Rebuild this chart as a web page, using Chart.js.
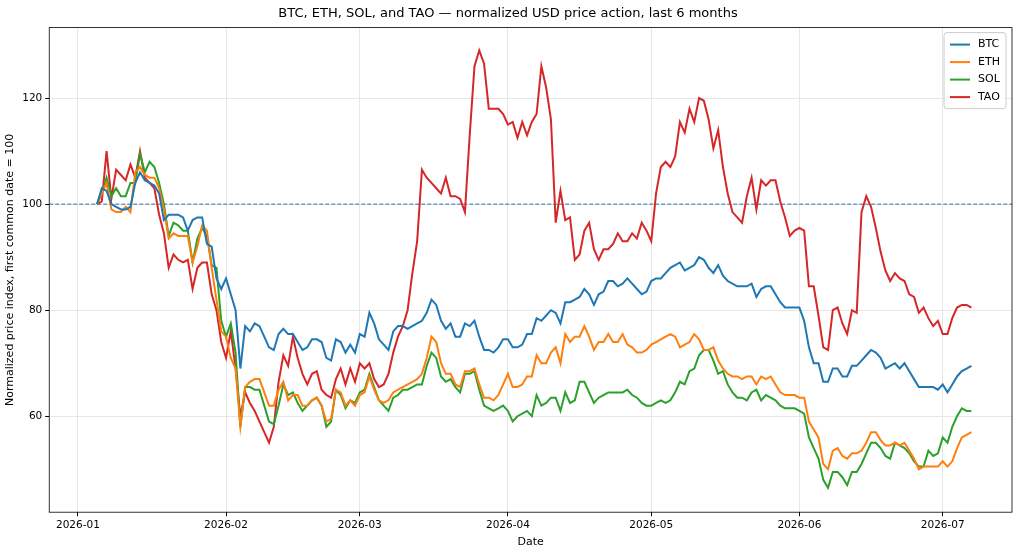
<!DOCTYPE html>
<html><head><meta charset="utf-8">
<script src="https://cdn.jsdelivr.net/npm/chart.js@4"></script>
<style>html,body{margin:0;padding:0;background:#fff}#w{width:1024px;height:551px}</style>
</head><body><div id="w"><canvas id="c"></canvas></div>
<script>
const startDay = 4; // 2026-01-05, days after 2026-01-01
const monthTicks = [0,31,59,90,120,151,181];
const monthLabels = ["2026-01","2026-02","2026-03","2026-04","2026-05","2026-06","2026-07"];
const seriesNames = ["BTC","ETH","SOL","TAO"];
const btc = [100,103,102.5,100,99.5,99,99,99.5,104,106,
104.5,104,103.5,102,97, 98,98,98,97.5,95, 97,97.5,97.5,92.5,92, 86,84,86,83,80,
69,77,76,77.5,77, 75,73,72.5,75.5,76.5, 75.5,75.5,74,72.5,73, 74.5,74.5,74,71,70.5, 74.5,74,72,73.5,72,
75.5,75,79.5,77.5,74.5, 73.5,72.5,76,77,77, 76.5,77,77.5,78,79.5, 82,81,78,76.5,77.5, 75,75,77.5,77,78, 75,72.5,72.5,72,73,
74.5,74.5,73,73,73.5, 75.5,75.5,78.5,78,79, 80,79.5,77.5,81.5,81.5, 82,82.5,84,83,81, 83,83.5,85.5,85.5,84.5, 85,86,85,84,83,
83.5,85.5,86,86,87, 88,88.5,89,87.5,88, 88.5,90,89.5,88,87, 88.5,86.5,85.5,85,84.5, 84.5,84.5,85,82.5,84, 84.5,84.5,83,81.5,80.5,
80.5,80.5,80.5,78,73, 70,70,66.5,66.5,69, 69,67.5,67.5,69.5,69.5, 70.5,71.5,72.5,72,71, 69,69.5,70,69,70, 68.5,67,65.5,65.5,65.5,
65.5,65,66,64.5,66, 67.5,68.5,69,69.5];
const eth = [100,102,104,99,98.5,98.5,99.5,98.5,106,107,
105.5,105,105,103,99, 93.5,94.5,94,94,94, 89,92,96,95,88, 82,76,75,71,69,
58,65.5,66.5,67,67, 64.5,62,62,65,66.5, 63,64,64,62,62, 63,63.5,62,59,59.5, 65,64.5,62,63,62,
64,64.5,67.5,65,63, 62.5,63,64.5,65,65.5, 66,66.5,67,68,71, 75,74,70,68,68, 66,65.5,68.5,68.5,69, 66,63.5,63.5,63,64,
66,68,65.5,65.5,66, 67.5,67.5,71.5,70,70, 72,73,70,75.5,74, 75,75,77,75,72.5, 74,74,75.5,74,74, 75.5,73.5,73,72,72,
72.5,73.5,74,74.5,75, 75.5,75,73,73.5,74, 75.5,74.5,72.5,72.5,73, 70.5,69,68,67.5,67.5, 67,67.5,67.5,66,67.5, 67,67.5,66,64.5,64,
64,64,63.5,63.5,59, 57.5,56,51,50,53.5, 54,52.5,52,53,53, 53.5,55,57,57,55.5, 54.5,54.5,55,54.5,55, 53.5,52,50,50.5,50.5,
50.5,50.5,51.5,50.5,51.5, 54,56,56.5,57];
const sol = [100,102,105,101.5,103,101.5,101.5,104,104,109.5,
106,108,107,104,100, 94,96.5,96,95,95, 89,93.5,95.5,94,88.5, 88,78,75,77.5,72,
58,65.5,65.5,65,65, 62,59,58.5,62,66, 64,64.5,62.5,61,62, 63,63.5,62,58,59, 65,64,61.5,63,62.5,
64.5,65,68,65.5,63, 62,61,63.5,64,65, 65,65.5,66,66,69.5, 72,71,67.5,66.5,67, 65.5,64.5,68,68,68.5, 65,62,61.5,61,61.5,
62,61,59,60,60.5, 61,60,64,62,62.5, 63.5,63.5,61,64.5,62.5, 63,66.5,66.5,64.5,62.5, 63.5,64,64.5,64.5,64.5, 64.5,65,64,63.5,62.5,
62,62,62.5,63,62.5, 63,64.5,66.5,66,68.5, 69,71.5,72.5,72.5,70.5, 68,68.5,66,64.5,63.5, 63.5,63,64.5,65,63, 64,63.5,63,62,61.5,
61.5,61.5,61,60.5,56, 54,52,48,46.5,49.5, 49.5,48.5,47,49.5,49.5, 51,53,55,55,54, 52.5,52,55,54.5,54, 53,51.5,50.5,50.5,53.5,
52.5,53,56,55,58, 60,61.5,61,61];
const tao = [100,100.5,110,101,106.5,105.5,104.5,107.5,105,110,
105,104,103,98,94.5, 88,90.5,89.5,89,89.5, 84,88,89,89,83, 80,74,71,76,69,
60,64.5,62.5,61,59, 57,55,58,66.5,71.5, 69.5,75,71,68,66, 68,68.5,65,64,63.5, 67,69,66,69,66.5,
70,69,70,67,65.5, 66,68,72,75,77, 80,87,93,106.5,105, 104,103,102,105,101.5, 101.5,101,98.5,113,126, 129,126.5,118,118,118,
117,115,115.5,112.5,115.5, 113,115.5,117,126,122, 116,96.5,102.5,97,97.5, 89.5,90.5,95,96.5,91.5, 89.5,91.5,91.5,92.5,94.5, 93,93,94.5,93.5,96.5,
95,93,102,107,108, 107,109,115.5,113.5,118, 115.5,120,119.5,116,110.5, 114,107,102,98.5,97.5, 96.5,101.5,105,99,104.5, 103.5,104.5,104.5,100.5,97.5,
94,95,95.5,95,84.5, 84.5,79,73,72.5,80, 80.5,77.5,75.5,80,79.5, 98.5,101.5,99.5,95.5,91, 87.5,85.5,87,86,85.5, 83,82.5,79.5,80.5,78.5,
77,78,75.5,75.5,78.5, 80.5,81,81,80.5];
const baseline = 100;
const colors = ["#1f77b4","#ff7f0e","#2ca02c","#d62728"];
const all = [btc,eth,sol,tao];
const F = "'DejaVu Sans', sans-serif";

const extras = {
  id:'extras',
  beforeDatasetsDraw(ch){
    const {ctx, chartArea:a, scales:{y}} = ch;
    const py = y.getPixelForValue(baseline);
    ctx.save(); ctx.strokeStyle="#1f77b4"; ctx.lineWidth=1; ctx.setLineDash([4,2]);
    ctx.beginPath(); ctx.moveTo(a.left,py); ctx.lineTo(a.right,py); ctx.stroke(); ctx.restore();
  },
  afterDraw(ch){
    const {ctx, chartArea:a} = ch;
    ctx.save();
    ctx.strokeStyle="#000"; ctx.lineWidth=0.8; ctx.strokeRect(a.left,a.top,a.right-a.left,a.bottom-a.top);
    const bx=a.right-68, by=a.top+5, bw=62, bh=76;
    ctx.fillStyle="rgba(255,255,255,0.8)"; ctx.strokeStyle="#ccc"; ctx.lineWidth=1;
    ctx.beginPath(); ctx.roundRect(bx,by,bw,bh,3); ctx.fill(); ctx.stroke();
    ctx.font="11px "+F; ctx.textBaseline="middle"; ctx.fillStyle="#000";
    seriesNames.forEach((n,i)=>{
      const yy=by+12+i*17.5;
      ctx.strokeStyle=colors[i]; ctx.lineWidth=2; ctx.setLineDash([]);
      ctx.beginPath(); ctx.moveTo(bx+6,yy); ctx.lineTo(bx+26,yy); ctx.stroke();
      ctx.fillText(n,bx+34,yy);
    });
    ctx.restore();
  }
};

new Chart(document.getElementById('c'),{
  type:'line',
  data:{datasets: all.map((arr,i)=>({label:seriesNames[i], data:arr.map((v,j)=>({x:startDay+j,y:v})),
    borderColor:colors[i], backgroundColor:colors[i], borderWidth:2, pointRadius:0, tension:0}))},
  options:{
    responsive:true, maintainAspectRatio:false, animation:false,
    layout:{padding:{left:4,right:12,top:2,bottom:2}},
    plugins:{legend:{display:false}, tooltip:{enabled:false},
      title:{display:true,text:"BTC, ETH, SOL, and TAO — normalized USD price action, last 6 months",
        font:{family:F,size:13,weight:'normal'},color:'#000',padding:{top:4,bottom:6}}},
    scales:{
      x:{type:'linear', min:-6, max:195.5,
        afterBuildTicks(s){ s.ticks = monthTicks.map(v=>({value:v})); },
        ticks:{autoSkip:false, maxRotation:0, color:'#000', font:{family:F,size:10.5}},
        grid:{color:'#e6e6e6', tickColor:'#000', tickLength:4},
        border:{display:false},
        title:{display:true,text:'Date',color:'#000',font:{family:F,size:11},padding:{top:1,bottom:0}}},
      y:{min:41.9, max:133.3,
        afterBuildTicks(s){ s.ticks=[60,80,100,120].map(v=>({value:v})); },
        ticks:{color:'#000', font:{family:F,size:10.5}},
        grid:{color:'#e6e6e6', tickColor:'#000', tickLength:4},
        border:{display:false},
        title:{display:true,text:'Normalized price index, first common date = 100',color:'#000',font:{family:F,size:11},padding:{top:0,bottom:2}}}
    }
  },
  plugins:[extras]
});
Chart.getChart('c').options.scales.x.ticks.callback = (v)=>monthLabels[monthTicks.indexOf(v)];
Chart.getChart('c').update();
</script></body></html>
